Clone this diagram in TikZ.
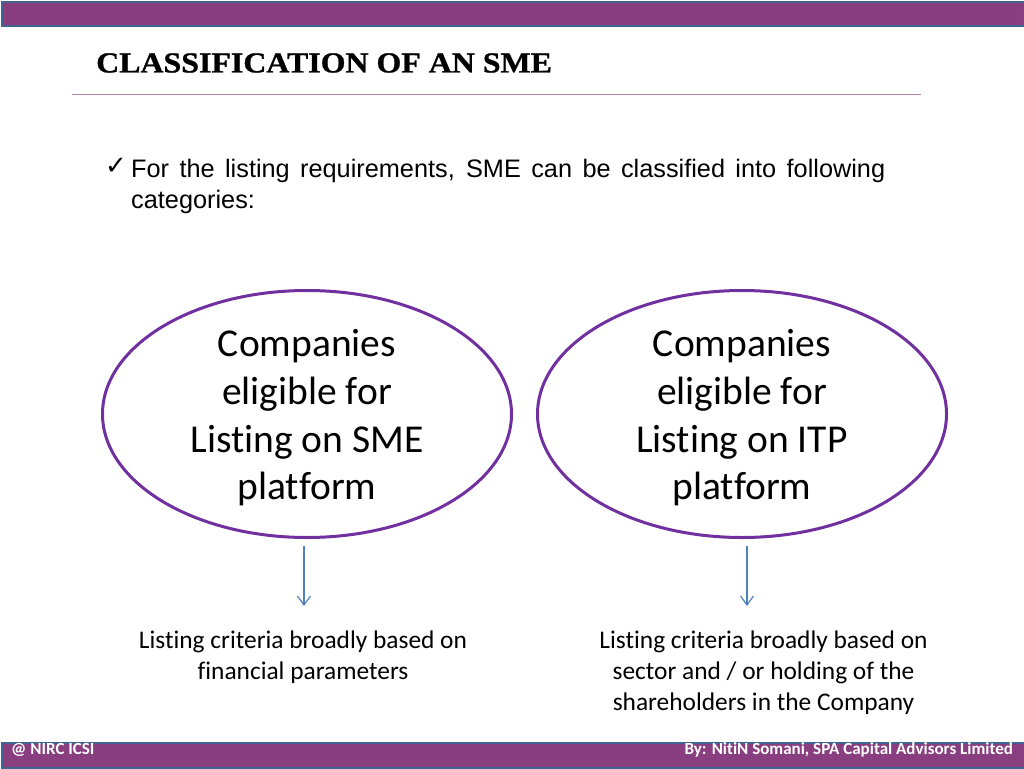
\documentclass[tikz,border=0pt]{standalone}
\usepackage{fontspec}
\setmainfont{Carlito}[Ligatures=NoCommon]
\newfontfamily\headfont{Liberation Serif Bold}[FakeStretch=1.1,FakeBold=1]
\newfontfamily\arialfont{Liberation Sans}
\newfontfamily\tickfont{DejaVu Sans}
\definecolor{barfill}{HTML}{893F7F}
\definecolor{barline}{HTML}{3F6490}
\definecolor{rulecol}{HTML}{B583AC}
\definecolor{ovalcol}{HTML}{7030A0}
\definecolor{arrowcol}{HTML}{4F81BD}
\tikzset{
    bar/.style={draw=barline, line width=2pt, fill=barfill, minimum width=1022pt, inner sep=0pt, anchor=north west},
    bartext/.style={text=white, font=\fontsize{17}{20}\selectfont\bfseries, inner sep=0pt},
    oval/.style={draw=ovalcol, line width=3pt, ellipse, minimum width=409pt, minimum height=247pt, inner sep=0pt},
    ovaltext/.style={align=center, inner sep=0pt, font=\fontsize{39.5}{47.7}\selectfont},
    criteria/.style={align=center, inner sep=0pt, anchor=north, font=\fontsize{25.4}{31}\selectfont},
    drop/.style={draw=arrowcol, line width=1.2pt, -{Straight Barb[length=9pt,width=13pt]}}
}
\usetikzlibrary{arrows.meta, shapes.geometric}
\begin{document}
\begin{tikzpicture}[x=1pt, y=-1pt]
	\useasboundingbox (0,0) rectangle (1024,768);
	\node[bar, minimum height=24pt] (top) at (1,1) {};
	\node[bar, minimum height=25.5pt] (bottom) at (1,741.5) {};
	\node[bartext, anchor=west] (nirc) at (11,750) {@ NIRC ICSI};
	\node[bartext, anchor=east] (author) at (1013,750) {By: NitiN Somani, SPA Capital Advisors Limited};
	% ----
	\node[inner sep=0pt, anchor=west, font=\headfont\fontsize{29}{32}\selectfont] (title) at (96,63) {CLASSIFICATION OF AN SME};
	\coordinate (ruleL) at (72,94);
	\coordinate (ruleR) at (921,94);
	\draw[rulecol, line width=1pt] (ruleL) -- (ruleR);
	% ----
	\node[inner sep=0pt, anchor=west, font=\tickfont\fontsize{26}{28}\selectfont] (tick) at (105,166) {✓};
	\node[inner sep=0pt, anchor=north west, text width=754pt, align=justify, font=\arialfont\fontsize{25.3}{30.5}\selectfont] (intro) at (131,159)
		{For the listing requirements, SME can be classified into following categories:};
	% ----
	\node[oval] (sme) at (307,414) {};
	\node[oval] (itp) at (742,414) {};
	\node[ovaltext] (smelabel) at (307,418) {Companies\\eligible for\\Listing on SME\\platform};
	\node[ovaltext] (itplabel) at (742,418) {Companies\\eligible for\\Listing on ITP\\platform};
	\coordinate (smeA) at (304,546);
	\coordinate (smeB) at (304,606);
	\coordinate (itpA) at (747,546);
	\coordinate (itpB) at (747,606);
	\draw[drop] (smeA) -- (smeB);
	\draw[drop] (itpA) -- (itpB);
	\node[criteria] (smetext) at (303,631) {Listing criteria broadly based on\\financial parameters};
	\node[criteria] (itptext) at (763.5,631) {Listing criteria broadly based on\\sector and / or holding of the\\shareholders in the Company};
\end{tikzpicture}
\end{document}
